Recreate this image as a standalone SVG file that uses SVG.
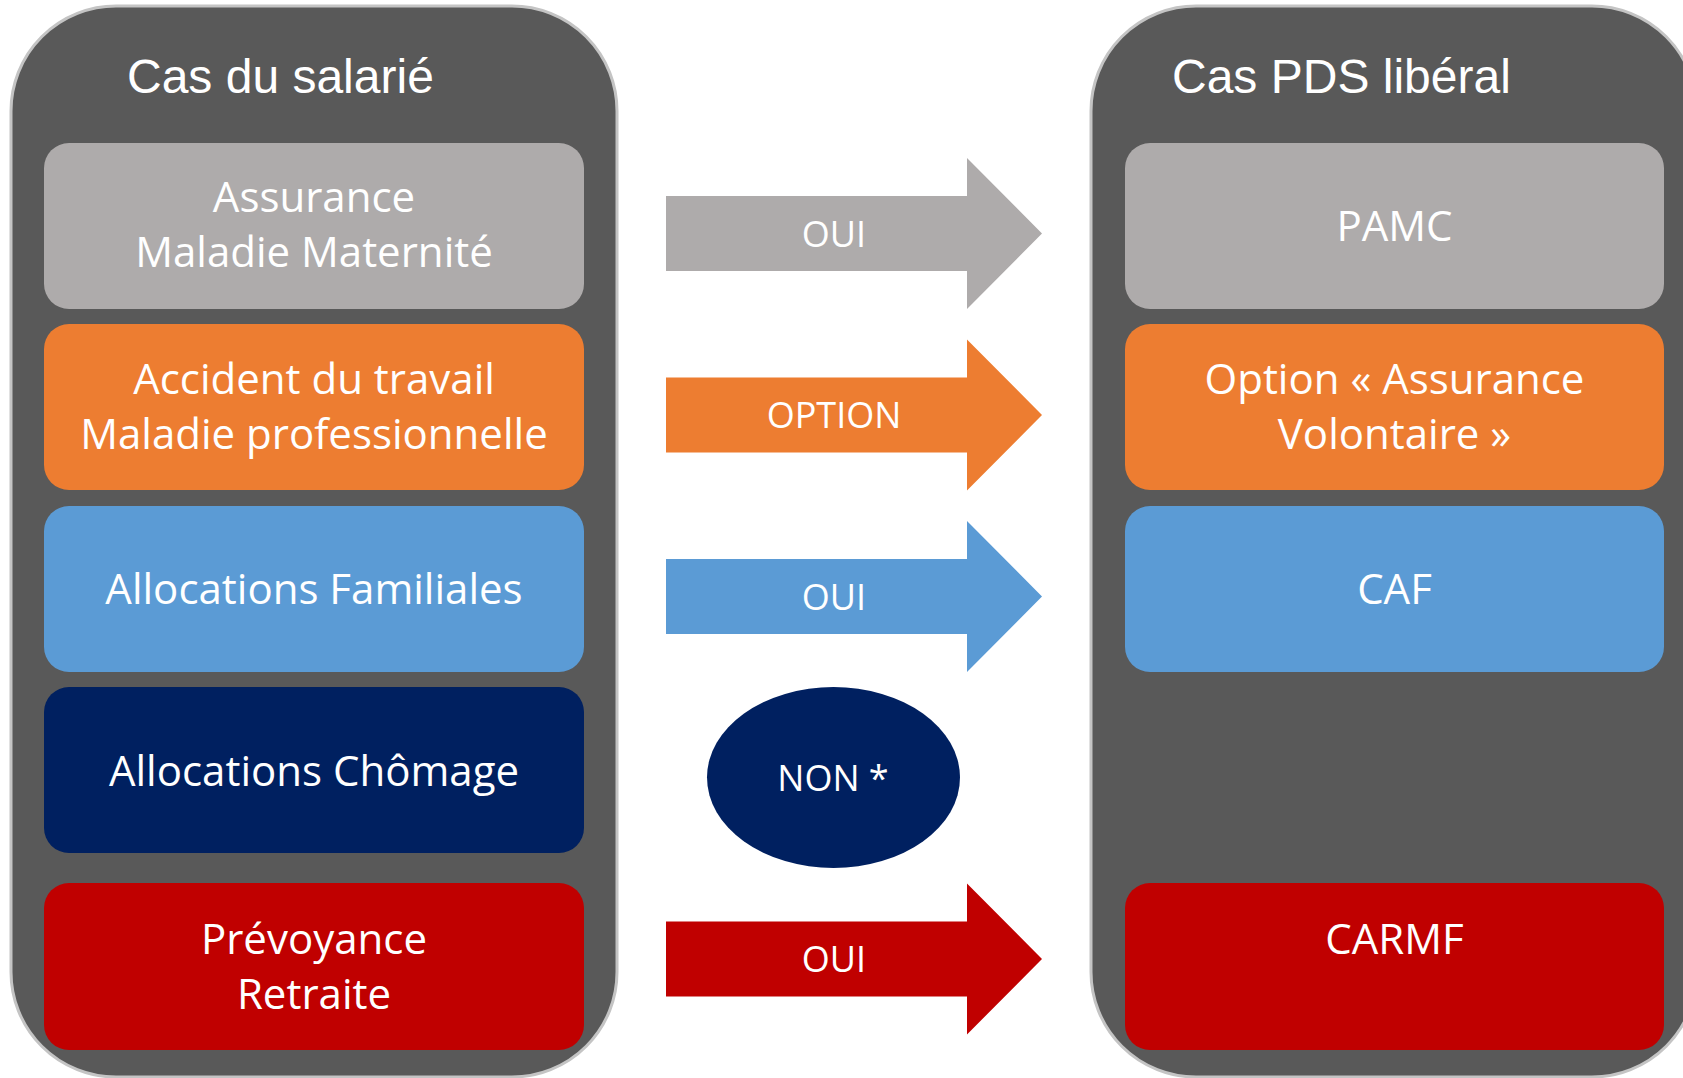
<svg xmlns="http://www.w3.org/2000/svg" width="1683" height="1078" viewBox="0 0 1683 1078">
<style>
.panel{fill:#595959;stroke:#c4c4c4;stroke-width:3}
.title{font-family:"Liberation Sans",Arial,sans-serif;font-size:48px;fill:#ffffff}
.lbl{font-family:"Open Sans","Noto Sans",sans-serif;font-size:42px;fill:#ffffff;text-anchor:middle}
.alb{font-family:"Open Sans","Noto Sans",sans-serif;font-size:36px;fill:#ffffff;text-anchor:middle}
.gray{fill:#aeabab}
.orange{fill:#ed7d31}
.blue{fill:#5b9bd5}
.navy{fill:#002060}
.red{fill:#c00000}
</style>
<rect width="1683" height="1078" fill="#ffffff"/>
<g id="panel-salarie">
<rect class="panel" x="11" y="6" width="606" height="1071" rx="105" ry="105"/>
<text class="title" x="127" y="93">Cas du salarié</text>
</g>
<g id="panel-liberal">
<rect class="panel" x="1091" y="6" width="606" height="1071" rx="105" ry="105"/>
<text class="title" x="1172" y="93">Cas PDS libéral</text>
</g>
<g id="left-amm"><rect class="gray" x="44" y="143" width="540" height="166" rx="25"/><text class="lbl" x="314" y="212">Assurance</text><text class="lbl" x="314" y="267">Maladie Maternité</text></g>
<g id="left-at"><rect class="orange" x="44" y="324" width="540" height="166" rx="25"/><text class="lbl" x="314" y="394">Accident du travail</text><text class="lbl" x="314" y="449">Maladie professionnelle</text></g>
<g id="left-af"><rect class="blue" x="44" y="506" width="540" height="166" rx="25"/><text class="lbl" x="314" y="604">Allocations Familiales</text></g>
<g id="left-ac"><rect class="navy" x="44" y="687" width="540" height="166" rx="25"/><text class="lbl" x="314" y="786">Allocations Chômage</text></g>
<g id="left-pr"><rect class="red" x="44" y="883" width="540" height="167" rx="25"/><text class="lbl" x="314" y="954">Prévoyance</text><text class="lbl" x="314" y="1009">Retraite</text></g>
<g id="right-pamc"><rect class="gray" x="1125" y="143" width="539" height="166" rx="25"/><text class="lbl" x="1394.5" y="241">PAMC</text></g>
<g id="right-option"><rect class="orange" x="1125" y="324" width="539" height="166" rx="25"/><text class="lbl" x="1394.5" y="394">Option « Assurance</text><text class="lbl" x="1394.5" y="449">Volontaire »</text></g>
<g id="right-caf"><rect class="blue" x="1125" y="506" width="539" height="166" rx="25"/><text class="lbl" x="1394.5" y="604">CAF</text></g>
<g id="right-carmf"><rect class="red" x="1125" y="883" width="539" height="167" rx="25"/><text class="lbl" x="1394.5" y="954">CARMF</text></g>
<g id="connectors">
<g id="arrow-amm"><polygon class="gray" points="666,196 967,196 967,158 1042,233.5 967,309 967,271 666,271"/><text class="alb" x="834" y="247">OUI</text></g>
<g id="arrow-at"><polygon class="orange" points="666,377.5 967,377.5 967,339.5 1042,415 967,490.5 967,452.5 666,452.5"/><text class="alb" x="834" y="428">OPTION</text></g>
<g id="arrow-af"><polygon class="blue" points="666,559 967,559 967,521 1042,596.5 967,672 967,634 666,634"/><text class="alb" x="834" y="610">OUI</text></g>
<g id="non-ac"><ellipse class="navy" cx="833.5" cy="777.5" rx="126.5" ry="90.5"/><text class="alb" x="833" y="791">NON *</text></g>
<g id="arrow-pr"><polygon class="red" points="666,921.5 967,921.5 967,883.5 1042,959 967,1034.5 967,996.5 666,996.5"/><text class="alb" x="834" y="972">OUI</text></g>
</g>
</svg>
